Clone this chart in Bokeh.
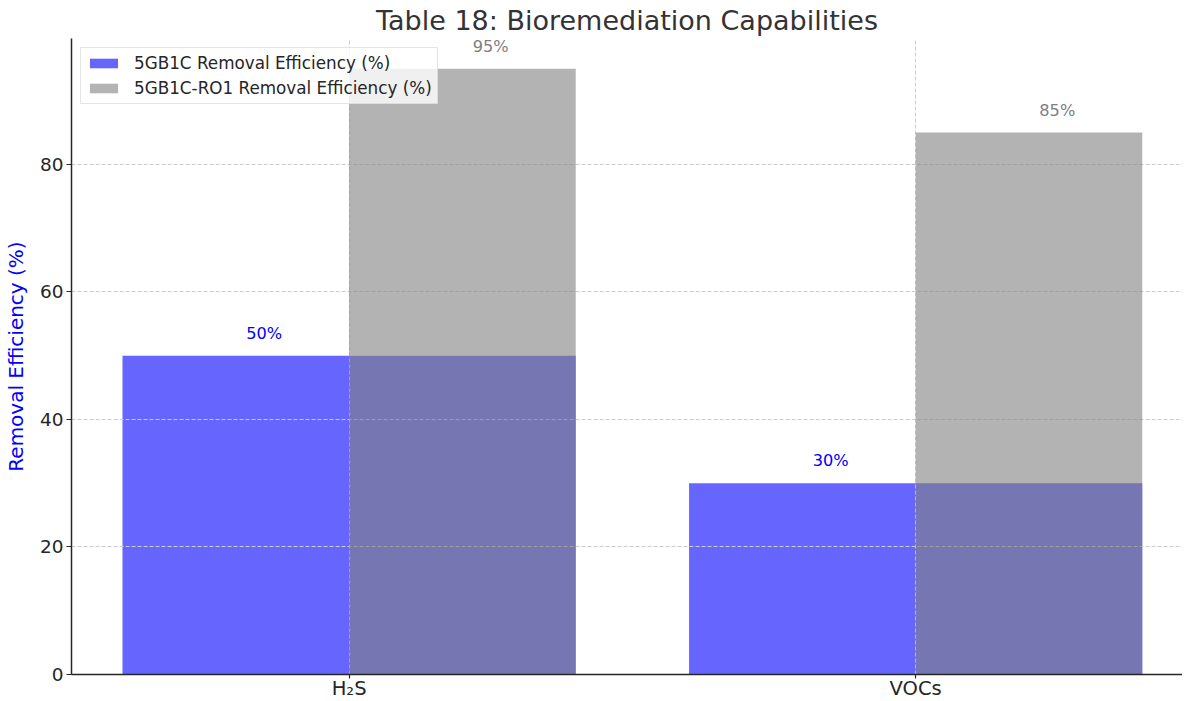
import numpy as np
from bokeh.plotting import figure
from bokeh.models import Range1d, FixedTicker, Legend, LegendItem
from bokeh.core.properties import value
from bokeh.embed import file_html
from bokeh.resources import INLINE

# ---- data ----
categories = ["H₂S", "VOCs"]
efficiency_5gb1c = [50, 30]
efficiency_ro1 = [95, 85]
series_names = ["5GB1C Removal Efficiency (%)", "5GB1C-RO1 Removal Efficiency (%)"]
y_ticks = [0, 20, 40, 60, 80]

FONT = "DejaVu Sans"
idx = np.arange(len(categories), dtype=float)

p = figure(frame_width=1111, frame_height=636,
           x_range=Range1d(-0.49, 1.471), y_range=Range1d(0, 99.75),
           output_backend="svg", toolbar_location=None,
           min_border_left=65, min_border_right=0, min_border_top=0, min_border_bottom=0)

p.title.text = "Table 18: Bioremediation Capabilities"
p.title.align = "center"
p.title.text_font = FONT
p.title.text_font_size = "27px"
p.title.text_font_style = "normal"
p.title.text_color = "#333333"
p.title.standoff = 5

p.outline_line_color = None
p.background_fill_color = "white"

r_blue = p.vbar(x=idx, top=efficiency_5gb1c, width=0.8, fill_color="blue",
                fill_alpha=0.6, line_color=None, level="image")
r_gray = p.vbar(x=idx + 0.2, top=efficiency_ro1, width=0.4, fill_color="gray",
                fill_alpha=0.6, line_color=None)

p.text(x=idx - 0.15, y=np.array(efficiency_5gb1c) + 2,
       text=[f"{v}%" for v in efficiency_5gb1c],
       text_align="center", text_baseline="bottom", text_color="blue",
       text_font_size="16.2px", text_font=value(FONT))
p.text(x=idx + 0.25, y=np.array(efficiency_ro1) + 2,
       text=[f"{v}%" for v in efficiency_ro1],
       text_align="center", text_baseline="bottom", text_color="gray",
       text_font_size="16.2px", text_font=value(FONT))

# axes
p.xaxis.ticker = FixedTicker(ticks=list(idx))
overrides = {float(i): c for i, c in zip(idx, categories)}
overrides.update({int(i): c for i, c in zip(idx, categories)})
p.xaxis.major_label_overrides = overrides
p.yaxis.ticker = FixedTicker(ticks=y_ticks)
for ax in (p.xaxis[0], p.yaxis[0]):
    ax.axis_line_color = "#262626"
    ax.axis_line_width = 1.5
    ax.major_tick_line_color = "#262626"
    ax.major_tick_line_width = 1.2
    ax.major_tick_out = 5
    ax.major_tick_in = 0
    ax.minor_tick_line_color = None
    ax.major_label_text_font = FONT
    ax.major_label_text_color = "#262626"
    ax.major_label_standoff = 3
p.yaxis.major_label_text_font_size = "18.5px"
p.xaxis.major_label_text_font_size = "19.5px"
p.xaxis.major_tick_out = 4
p.xaxis.major_label_standoff = -2

p.yaxis.axis_label = "Removal Efficiency (%)"
p.yaxis.axis_label_text_color = "blue"
p.yaxis.axis_label_text_font = FONT
p.yaxis.axis_label_text_font_size = "20px"
p.yaxis.axis_label_text_font_style = "normal"
p.yaxis.axis_label_standoff = 9

p.grid.grid_line_color = "#cccccc"
p.grid.grid_line_dash = "4 2"
p.grid.grid_line_width = 1
p.grid.level = "underlay"

legend = Legend(items=[LegendItem(label=series_names[0], renderers=[r_blue]),
                       LegendItem(label=series_names[1], renderers=[r_gray])],
                location="top_left", margin=9, padding=5, spacing=5,
                glyph_width=35, glyph_height=12, label_standoff=13, label_height=20,
                label_text_font=FONT, label_text_font_size="16.8px",
                label_text_color="#262626", border_line_color="#cccccc",
                background_fill_alpha=0.8)
p.add_layout(legend)

open("out.html", "w").write(file_html(p, INLINE))
